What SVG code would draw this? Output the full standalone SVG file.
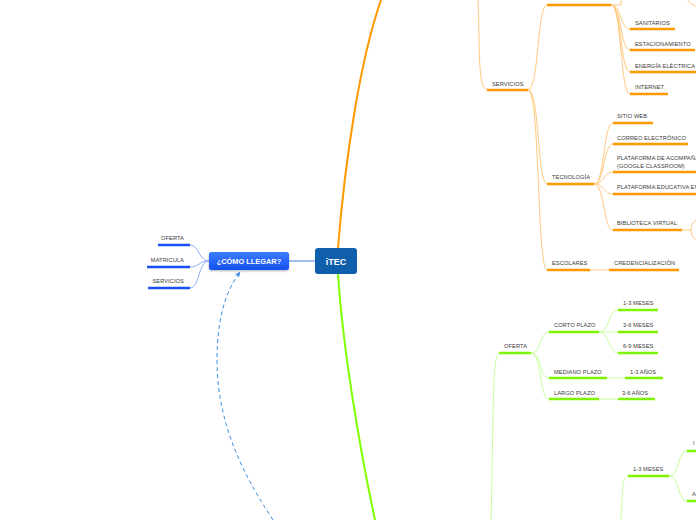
<svg xmlns="http://www.w3.org/2000/svg" width="696" height="520" viewBox="0 0 696 520">
<defs>
<linearGradient id="gBlue" x1="0" y1="0" x2="0" y2="1">
<stop offset="0" stop-color="#3c7dff"/>
<stop offset="1" stop-color="#1650f0"/>
</linearGradient>
<marker id="arr" viewBox="0 0 10 10" refX="8" refY="5" markerWidth="6" markerHeight="6" orient="auto-start-reverse" markerUnits="userSpaceOnUse">
<path d="M0,1 L9,5 L0,9 z" fill="#3f8fe6"/>
</marker>
<filter id="sh" x="-10%" y="-20%" width="120%" height="150%">
<feDropShadow dx="0" dy="1" stdDeviation="0.8" flood-color="#000" flood-opacity="0.3"/>
</filter>
</defs>
<style>
text{font-family:"Liberation Sans",Arial,sans-serif;font-size:5.7px;fill:#3a3a3a;letter-spacing:0.08px}
.ou{stroke:#ff9900;stroke-width:2.5;fill:none}
.oc{stroke:#ffc980;stroke-width:1;fill:none}
.gu{stroke:#7df500;stroke-width:2.5;fill:none}
.gc{stroke:#c6ff9c;stroke-width:1;fill:none}
.bu{stroke:#1a4ff0;stroke-width:2.5;fill:none}
.bc{stroke:#8fb0f7;stroke-width:1;fill:none}
.wt{fill:#fff;font-weight:bold;letter-spacing:0}
</style>

<g id="connectors">
<path d="M338,248 C345,160 360,60 381,0" stroke="#ff9900" stroke-width="2" fill="none"/>
<path d="M338,274 C343,350 360,450 375,520" stroke="#80ff00" stroke-width="2" fill="none"/>
<path d="M289,261 H315" stroke="#4a7cf0" stroke-width="1" fill="none"/>
<path class="bc" d="M209,261 C198,261 200,245 190,245"/>
<path class="bc" d="M209,261 C198,261 200,267 190,267"/>
<path class="bc" d="M209,261 C198,261 200,288 190,288"/>
<path d="M273,520 C240,470 217,420 217,360 C217,320 225,292 240,272" stroke="#3f8fe6" stroke-width="1" stroke-dasharray="4,3" fill="none" marker-end="url(#arr)"/>
<path class="oc" d="M478,0 C480,60 478,90 488,90"/>
<path class="oc" d="M528,90 C539,90 537,5 547,5"/>
<path class="oc" d="M528,90 C540,90 537,184 547,184"/>
<path class="oc" d="M528,90 C540,90 537,270 547,270"/>
<path class="oc" d="M611,5 H621 V0"/>
<path class="oc" d="M611,5 C622,5 620,29 630,29"/>
<path class="oc" d="M611,5 C622,5 620,50 630,50"/>
<path class="oc" d="M611,5 C622,5 620,72 630,72"/>
<path class="oc" d="M611,5 C622,5 620,94 630,94"/>
<path class="oc" d="M688,0 C690,4 693,5 696,6"/>
<path class="oc" d="M594,184 C605,184 603,123 613,123"/>
<path class="oc" d="M594,184 C605,184 603,144 613,144"/>
<path class="oc" d="M594,184 C605,184 603,172 613,172"/>
<path class="oc" d="M594,184 C605,184 603,194 613,194"/>
<path class="oc" d="M594,184 C605,184 603,230 613,230"/>
<path class="oc" d="M682,230 H691"/>
<path class="oc" d="M697,220 C692,222 691,226 691,230 C691,234 692,238 697,240"/>
<path class="oc" d="M590,270 H609"/>
<path class="gc" d="M491,520 C494,400 492,353 500,353"/>
<path class="gc" d="M531,353 C542,353 539,332 549,332"/>
<path class="gc" d="M531,353 C542,353 539,378 549,378"/>
<path class="gc" d="M531,353 C542,353 539,399 549,399"/>
<path class="gc" d="M599,332 C610,332 608,310 618,310"/>
<path class="gc" d="M599,332 H618"/>
<path class="gc" d="M599,332 C610,332 608,353 618,353"/>
<path class="gc" d="M607,378 H625"/>
<path class="gc" d="M599,399 H618"/>
<path class="gc" d="M621,520 C623,485 622,476 629,476"/>
<path class="gc" d="M669,476 C680,476 677,451 687,451"/>
<path class="gc" d="M669,476 C680,476 677,501 687,501"/>
</g>

<g id="itec">
<rect x="315" y="248" width="42" height="26" rx="3" fill="#0f5fad"/>
<text x="336" y="265" class="wt" text-anchor="middle" style="font-size:9px">iTEC</text>
</g>

<g id="como-llegar">
<rect x="209" y="252" width="80" height="18" rx="2.5" fill="url(#gBlue)" filter="url(#sh)"/>
<text x="249" y="264" class="wt" text-anchor="middle" style="font-size:7.4px">¿CÓMO LLEGAR?</text>
</g>

<g id="l-oferta"><path class="bu" d="M158,245 H190"/><text x="184" y="240" text-anchor="end">OFERTA</text></g>
<g id="l-matricula"><path class="bu" d="M147,267 H190"/><text x="184" y="262" text-anchor="end">MATRICULA</text></g>
<g id="l-servicios"><path class="bu" d="M148,288 H190"/><text x="184" y="283" text-anchor="end">SERVICIOS</text></g>

<g id="servicios"><path class="ou" d="M487,90 H528"/><text x="492" y="86">SERVICIOS</text></g>
<g id="serv-top"><path class="ou" d="M547,5 H611"/></g>
<g id="sanitarios"><path class="ou" d="M630,29 H675"/><text x="635" y="25">SANITARIOS</text></g>
<g id="estacionamiento"><path class="ou" d="M630,50 H695"/><text x="635" y="46">ESTACIONAMIENTO</text></g>
<g id="energia"><path class="ou" d="M630,72 H697"/><text x="635" y="68">ENERGÍA ELÉCTRICA</text></g>
<g id="internet"><path class="ou" d="M630,94 H668"/><text x="635" y="89">INTERNET</text></g>
<g id="tecnologia"><path class="ou" d="M547,184 H594"/><text x="552" y="179">TECNOLOGÍA</text></g>
<g id="sitio-web"><path class="ou" d="M613,123 H653"/><text x="617" y="118">SITIO WEB</text></g>
<g id="correo"><path class="ou" d="M613,144 H688"/><text x="617" y="140">CORREO ELECTRÓNICO</text></g>
<g id="plat-acomp"><path class="ou" d="M613,172 H697"/><text x="617" y="160">PLATAFORMA DE ACOMPAÑA</text><text x="617" y="168">(GOOGLE CLASSROOM)</text></g>
<g id="plat-edu"><path class="ou" d="M613,194 H697"/><text x="617" y="189">PLATAFORMA EDUCATIVA EN</text></g>
<g id="biblioteca"><path class="ou" d="M613,230 H682"/><text x="617" y="225">BIBLIOTECA VIRTUAL</text></g>
<g id="escolares"><path class="ou" d="M547,270 H590"/><text x="552" y="265">ESCOLARES</text></g>
<g id="credencial"><path class="ou" d="M609,270 H679"/><text x="614" y="265">CREDENCIALIZACIÓN</text></g>

<g id="g-oferta"><path class="gu" d="M499,353 H531"/><text x="504" y="348">OFERTA</text></g>
<g id="corto"><path class="gu" d="M549,332 H599"/><text x="554" y="327">CORTO PLAZO</text></g>
<g id="mediano"><path class="gu" d="M549,378 H607"/><text x="554" y="374">MEDIANO PLAZO</text></g>
<g id="largo"><path class="gu" d="M549,399 H599"/><text x="554" y="395">LARGO PLAZO</text></g>
<g id="m13"><path class="gu" d="M618,310 H658"/><text x="623" y="305">1-3 MESES</text></g>
<g id="m36"><path class="gu" d="M618,332 H658"/><text x="623" y="327">3-6 MESES</text></g>
<g id="m69"><path class="gu" d="M618,353 H658"/><text x="623" y="348">6-9 MESES</text></g>
<g id="a13"><path class="gu" d="M625,378 H663"/><text x="630" y="374">1-3 AÑOS</text></g>
<g id="a36"><path class="gu" d="M618,399 H655"/><text x="622" y="395">3-6 AÑOS</text></g>
<g id="b13"><path class="gu" d="M628,476 H669"/><text x="633" y="471">1-3 MESES</text></g>
<g id="bi"><path class="gu" d="M687,451 H697"/><text x="693" y="445">I</text></g>
<g id="ba"><path class="gu" d="M687,501 H697"/><text x="692" y="496">A</text></g>
</svg>
